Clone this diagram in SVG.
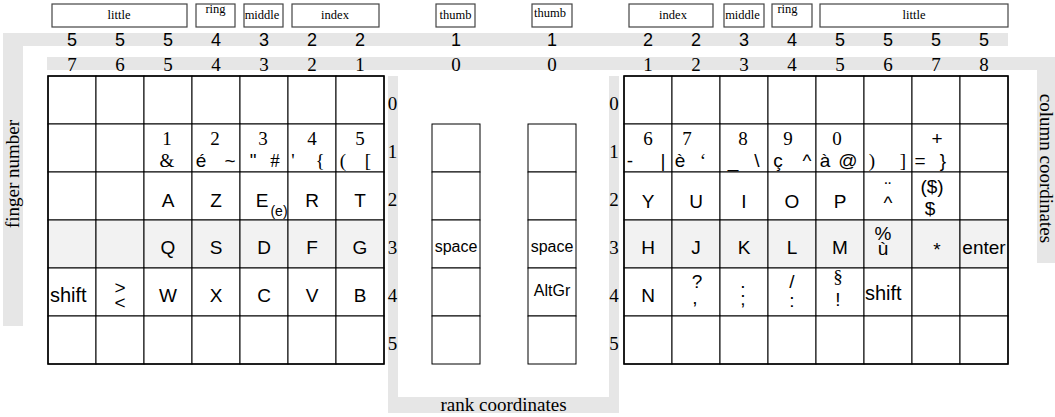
<svg xmlns="http://www.w3.org/2000/svg" width="1055" height="417" viewBox="0 0 1055 417">
<style>
.band{fill:#e6e6e6}
.c{fill:#fff;stroke:#000;stroke-width:1}
.c3{fill:#f2f2f2;stroke:#000;stroke-width:1}
.frame{fill:none;stroke:#000;stroke-width:1.5}
.hb{fill:#fff;stroke:#444;stroke-width:1.2}
.a{font-family:"Liberation Sans",Arial,sans-serif;font-size:19px;text-anchor:middle;fill:#000}
.t{font-family:"Liberation Serif","Times New Roman",serif;font-size:19px;text-anchor:middle;fill:#000}
.s{font-family:"Liberation Serif","Times New Roman",serif;font-size:12.5px;text-anchor:middle;fill:#000}
.h1{font-family:"Liberation Sans",Arial,sans-serif;font-size:18px;text-anchor:middle}
.th{font-family:"Liberation Sans",Arial,sans-serif;font-size:16px;text-anchor:middle}
.st{font-family:"Liberation Sans",Arial,sans-serif;font-size:20px}
</style>

<g id="bands">
<rect class="band" x="3" y="33" width="1005" height="13"/>
<rect class="band" x="3" y="33" width="20" height="293"/>
<rect class="band" x="47" y="57" width="1008" height="13"/>
<rect class="band" x="1037" y="57" width="18" height="206"/>
<path class="band" d="M388 76H398V397H609V76H619V413H388Z"/>
</g>

<g id="axis-labels">
<text class="t" transform="translate(19,174) rotate(-90)">finger number</text>
<text class="t" transform="translate(1040,168.5) rotate(90)">column coordinates</text>
<text class="t" x="503.5" y="411">rank coordinates</text>
</g>

<g id="finger-boxes">
<g id="f-little-l"><rect class="hb" x="52" y="4" width="135" height="23"/><text class="s" x="119" y="19.3">little</text></g>
<g id="f-ring-l"><rect class="hb" x="196" y="4" width="39" height="23"/><text class="s" x="215.5" y="13">ring</text></g>
<g id="f-middle-l"><rect class="hb" x="244" y="4" width="39" height="23"/><text class="s" x="262" y="19.3">middle</text></g>
<g id="f-index-l"><rect class="hb" x="292" y="4" width="87" height="23"/><text class="s" x="335" y="19.3">index</text></g>
<g id="f-thumb-l"><rect class="hb" x="436" y="4" width="39" height="23"/><text class="s" x="455.5" y="19.3">thumb</text></g>
<g id="f-thumb-r"><rect class="hb" x="532" y="4" width="40" height="23"/><text class="s" x="550" y="17.3">thumb</text></g>
<g id="f-index-r"><rect class="hb" x="629" y="4" width="84" height="23"/><text class="s" x="673" y="19.3">index</text></g>
<g id="f-middle-r"><rect class="hb" x="724" y="4" width="40" height="23"/><text class="s" x="742.5" y="19.3">middle</text></g>
<g id="f-ring-r"><rect class="hb" x="772" y="4" width="40" height="23"/><text class="s" x="787.5" y="13">ring</text></g>
<g id="f-little-r"><rect class="hb" x="820" y="4" width="188" height="23"/><text class="s" x="914" y="19.3">little</text></g>
</g>

<g id="finger-numbers" class="h1">
<text x="72" y="46">5</text><text x="120" y="46">5</text><text x="168" y="46">5</text><text x="216" y="46">4</text><text x="264" y="46">3</text><text x="312" y="46">2</text><text x="360" y="46">2</text>
<text x="456" y="46">1</text><text x="552" y="46">1</text>
<text x="648" y="46">2</text><text x="696" y="46">2</text><text x="744" y="46">3</text><text x="792" y="46">4</text><text x="840" y="46">5</text><text x="888" y="46">5</text><text x="936" y="46">5</text><text x="984" y="46">5</text>
</g>

<g id="column-numbers" class="t">
<text x="72" y="70.5">7</text><text x="120" y="70.5">6</text><text x="168" y="70.5">5</text><text x="216" y="70.5">4</text><text x="264" y="70.5">3</text><text x="312" y="70.5">2</text><text x="360" y="70.5">1</text>
<text x="456" y="70.5">0</text><text x="552" y="70.5">0</text>
<text x="648" y="70.5">1</text><text x="696" y="70.5">2</text><text x="744" y="70.5">3</text><text x="792" y="70.5">4</text><text x="840" y="70.5">5</text><text x="888" y="70.5">6</text><text x="936" y="70.5">7</text><text x="984" y="70.5">8</text>
</g>

<g id="rank-numbers" class="t">
<text x="392.5" y="110">0</text><text x="392.5" y="158">1</text><text x="392.5" y="206">2</text><text x="392.5" y="254">3</text><text x="392.5" y="302">4</text><text x="392.5" y="350">5</text>
<text x="614" y="110">0</text><text x="614" y="158">1</text><text x="614" y="206">2</text><text x="614" y="254">3</text><text x="614" y="302">4</text><text x="614" y="350">5</text>
</g>

<g id="left-hand">
<g id="L-r0">
<rect class="c" x="48" y="76" width="48" height="48"/><rect class="c" x="96" y="76" width="48" height="48"/><rect class="c" x="144" y="76" width="48" height="48"/><rect class="c" x="192" y="76" width="48" height="48"/><rect class="c" x="240" y="76" width="48" height="48"/><rect class="c" x="288" y="76" width="48" height="48"/><rect class="c" x="336" y="76" width="48" height="48"/>
</g>
<g id="L-r1">
<rect class="c" x="48" y="124" width="48" height="48"/><rect class="c" x="96" y="124" width="48" height="48"/>
<g id="key-1"><rect class="c" x="144" y="124" width="48" height="48"/><text class="t" x="167" y="145">1</text><text class="t" x="167" y="167">&amp;</text></g>
<g id="key-2"><rect class="c" x="192" y="124" width="48" height="48"/><text class="t" x="215" y="145">2</text><text class="a" x="201" y="167">é</text><text class="a" x="230" y="167">~</text></g>
<g id="key-3"><rect class="c" x="240" y="124" width="48" height="48"/><text class="t" x="263" y="145">3</text><text class="a" x="253" y="167">"</text><text class="t" x="275" y="167">#</text></g>
<g id="key-4"><rect class="c" x="288" y="124" width="48" height="48"/><text class="t" x="312" y="145">4</text><text class="t" x="293" y="167">'</text><text class="t" x="320" y="167">{</text></g>
<g id="key-5"><rect class="c" x="336" y="124" width="48" height="48"/><text class="t" x="360" y="145">5</text><text class="t" x="343" y="167">(</text><text class="t" x="368" y="167">[</text></g>
</g>
<g id="L-r2">
<rect class="c" x="48" y="172" width="48" height="48"/><rect class="c" x="96" y="172" width="48" height="48"/>
<g id="key-A"><rect class="c" x="144" y="172" width="48" height="48"/><text class="a" x="168" y="207">A</text></g>
<g id="key-Z"><rect class="c" x="192" y="172" width="48" height="48"/><text class="a" x="216" y="207">Z</text></g>
<g id="key-E"><rect class="c" x="240" y="172" width="48" height="48"/><text class="a" x="262" y="207">E</text><text class="a" x="279" y="216" style="font-size:14px">(e)</text></g>
<g id="key-R"><rect class="c" x="288" y="172" width="48" height="48"/><text class="a" x="312" y="207">R</text></g>
<g id="key-T"><rect class="c" x="336" y="172" width="48" height="48"/><text class="a" x="360" y="207">T</text></g>
</g>
<g id="L-r3">
<rect class="c3" x="48" y="220" width="48" height="48"/><rect class="c3" x="96" y="220" width="48" height="48"/>
<g id="key-Q"><rect class="c3" x="144" y="220" width="48" height="48"/><text class="a" x="168" y="254">Q</text></g>
<g id="key-S"><rect class="c3" x="192" y="220" width="48" height="48"/><text class="a" x="216" y="254">S</text></g>
<g id="key-D"><rect class="c3" x="240" y="220" width="48" height="48"/><text class="a" x="264" y="254">D</text></g>
<g id="key-F"><rect class="c3" x="288" y="220" width="48" height="48"/><text class="a" x="312" y="254">F</text></g>
<g id="key-G"><rect class="c3" x="336" y="220" width="48" height="48"/><text class="a" x="360" y="254">G</text></g>
</g>
<g id="L-r4">
<g id="key-shift-l"><rect class="c" x="48" y="268" width="48" height="48"/><text class="st" x="50" y="301.5">shift</text></g>
<g id="key-lt"><rect class="c" x="96" y="268" width="48" height="48"/><text class="a" x="120" y="293.5">&gt;</text><text class="a" x="120" y="308.5">&lt;</text></g>
<g id="key-W"><rect class="c" x="144" y="268" width="48" height="48"/><text class="a" x="168" y="302">W</text></g>
<g id="key-X"><rect class="c" x="192" y="268" width="48" height="48"/><text class="a" x="216" y="302">X</text></g>
<g id="key-C"><rect class="c" x="240" y="268" width="48" height="48"/><text class="a" x="264" y="302">C</text></g>
<g id="key-V"><rect class="c" x="288" y="268" width="48" height="48"/><text class="a" x="312" y="302">V</text></g>
<g id="key-B"><rect class="c" x="336" y="268" width="48" height="48"/><text class="a" x="360" y="302">B</text></g>
</g>
<g id="L-r5">
<rect class="c" x="48" y="316" width="48" height="48"/><rect class="c" x="96" y="316" width="48" height="48"/><rect class="c" x="144" y="316" width="48" height="48"/><rect class="c" x="192" y="316" width="48" height="48"/><rect class="c" x="240" y="316" width="48" height="48"/><rect class="c" x="288" y="316" width="48" height="48"/><rect class="c" x="336" y="316" width="48" height="48"/>
</g>
<rect class="frame" x="48" y="76" width="336" height="288"/>
</g>

<g id="thumb-left">
<rect class="c" x="432" y="124" width="48" height="48"/>
<rect class="c" x="432" y="172" width="48" height="48"/>
<g id="key-space-l"><rect class="c" x="432" y="220" width="48" height="48"/><text class="th" x="456" y="251.5">space</text></g>
<rect class="c" x="432" y="268" width="48" height="48"/>
<rect class="c" x="432" y="316" width="48" height="48"/>
</g>

<g id="thumb-right">
<rect class="c" x="528" y="124" width="48" height="48"/>
<rect class="c" x="528" y="172" width="48" height="48"/>
<g id="key-space-r"><rect class="c" x="528" y="220" width="48" height="48"/><text class="th" x="552" y="251.5">space</text></g>
<g id="key-altgr"><rect class="c" x="528" y="268" width="48" height="48"/><text class="th" x="552" y="296">AltGr</text></g>
<rect class="c" x="528" y="316" width="48" height="48"/>
</g>

<g id="right-hand">
<g id="R-r0">
<rect class="c" x="624" y="76" width="48" height="48"/><rect class="c" x="672" y="76" width="48" height="48"/><rect class="c" x="720" y="76" width="48" height="48"/><rect class="c" x="768" y="76" width="48" height="48"/><rect class="c" x="816" y="76" width="48" height="48"/><rect class="c" x="864" y="76" width="48" height="48"/><rect class="c" x="912" y="76" width="48" height="48"/><rect class="c" x="960" y="76" width="48" height="48"/>
</g>
<g id="R-r1">
<g id="key-6"><rect class="c" x="624" y="124" width="48" height="48"/><text class="t" x="648" y="145">6</text><text class="a" x="630" y="167">-</text><text class="a" x="663" y="167">|</text></g>
<g id="key-7"><rect class="c" x="672" y="124" width="48" height="48"/><text class="t" x="687" y="145">7</text><text class="a" x="680" y="167">è</text><text class="t" x="703" y="167">‘</text></g>
<g id="key-8"><rect class="c" x="720" y="124" width="48" height="48"/><text class="t" x="743" y="145">8</text><text class="a" x="733" y="167">_</text><text class="a" x="757" y="167">\</text></g>
<g id="key-9"><rect class="c" x="768" y="124" width="48" height="48"/><text class="t" x="788" y="145">9</text><text class="a" x="778" y="167">ç</text><text class="a" x="807" y="167">^</text></g>
<g id="key-0"><rect class="c" x="816" y="124" width="48" height="48"/><text class="t" x="837" y="145">0</text><text class="a" x="825" y="167">à</text><text class="a" x="848" y="167">@</text></g>
<g id="key-paren"><rect class="c" x="864" y="124" width="48" height="48"/><text class="t" x="872" y="167">)</text><text class="t" x="903" y="167">]</text></g>
<g id="key-eq"><rect class="c" x="912" y="124" width="48" height="48"/><text class="a" x="937" y="145">+</text><text class="a" x="920" y="167">=</text><text class="a" x="943" y="167">}</text></g>
<rect class="c" x="960" y="124" width="48" height="48"/>
</g>
<g id="R-r2">
<g id="key-Y"><rect class="c" x="624" y="172" width="48" height="48"/><text class="a" x="648" y="208">Y</text></g>
<g id="key-U"><rect class="c" x="672" y="172" width="48" height="48"/><text class="a" x="696" y="208">U</text></g>
<g id="key-I"><rect class="c" x="720" y="172" width="48" height="48"/><text class="a" x="744" y="208">I</text></g>
<g id="key-O"><rect class="c" x="768" y="172" width="48" height="48"/><text class="a" x="792" y="208">O</text></g>
<g id="key-P"><rect class="c" x="816" y="172" width="48" height="48"/><text class="a" x="840" y="208">P</text></g>
<g id="key-circ"><rect class="c" x="864" y="172" width="48" height="48"/><text class="a" x="888" y="195">¨</text><text class="a" x="888" y="208.5">^</text></g>
<g id="key-dollar"><rect class="c" x="912" y="172" width="48" height="48"/><text class="a" x="932" y="193">($)</text><text class="a" x="930" y="215">$</text></g>
<rect class="c" x="960" y="172" width="48" height="48"/>
</g>
<g id="R-r3">
<g id="key-H"><rect class="c3" x="624" y="220" width="48" height="48"/><text class="a" x="648" y="254">H</text></g>
<g id="key-J"><rect class="c3" x="672" y="220" width="48" height="48"/><text class="a" x="696" y="254">J</text></g>
<g id="key-K"><rect class="c3" x="720" y="220" width="48" height="48"/><text class="a" x="744" y="254">K</text></g>
<g id="key-L"><rect class="c3" x="768" y="220" width="48" height="48"/><text class="a" x="792" y="254">L</text></g>
<g id="key-M"><rect class="c3" x="816" y="220" width="48" height="48"/><text class="a" x="840" y="254">M</text></g>
<g id="key-u"><rect class="c3" x="864" y="220" width="48" height="48"/><text class="a" x="883" y="240">%</text><text class="a" x="883" y="255">ù</text></g>
<g id="key-star"><rect class="c3" x="912" y="220" width="48" height="48"/><text class="a" x="937" y="256">*</text></g>
<g id="key-enter"><rect class="c3" x="960" y="220" width="48" height="48"/><text class="a" x="984" y="254">enter</text></g>
</g>
<g id="R-r4">
<g id="key-N"><rect class="c" x="624" y="268" width="48" height="48"/><text class="a" x="648" y="302">N</text></g>
<g id="key-comma"><rect class="c" x="672" y="268" width="48" height="48"/><text class="a" x="697" y="288">?</text><text class="a" x="695" y="304">,</text></g>
<g id="key-semi"><rect class="c" x="720" y="268" width="48" height="48"/><text class="a" x="743" y="288">.</text><text class="a" x="743" y="305">;</text></g>
<g id="key-colon"><rect class="c" x="768" y="268" width="48" height="48"/><text class="a" x="792" y="288">/</text><text class="a" x="792" y="307">:</text></g>
<g id="key-excl"><rect class="c" x="816" y="268" width="48" height="48"/><text class="t" x="838" y="283">§</text><text class="a" x="838" y="306">!</text></g>
<g id="key-shift-r"><rect class="c" x="864" y="268" width="48" height="48"/><text class="st" x="865" y="300">shift</text></g>
<rect class="c" x="912" y="268" width="48" height="48"/><rect class="c" x="960" y="268" width="48" height="48"/>
</g>
<g id="R-r5">
<rect class="c" x="624" y="316" width="48" height="48"/><rect class="c" x="672" y="316" width="48" height="48"/><rect class="c" x="720" y="316" width="48" height="48"/><rect class="c" x="768" y="316" width="48" height="48"/><rect class="c" x="816" y="316" width="48" height="48"/><rect class="c" x="864" y="316" width="48" height="48"/><rect class="c" x="912" y="316" width="48" height="48"/><rect class="c" x="960" y="316" width="48" height="48"/>
</g>
<rect class="frame" x="624" y="76" width="384" height="288"/>
</g>

<g id="connectors"/>
</svg>
